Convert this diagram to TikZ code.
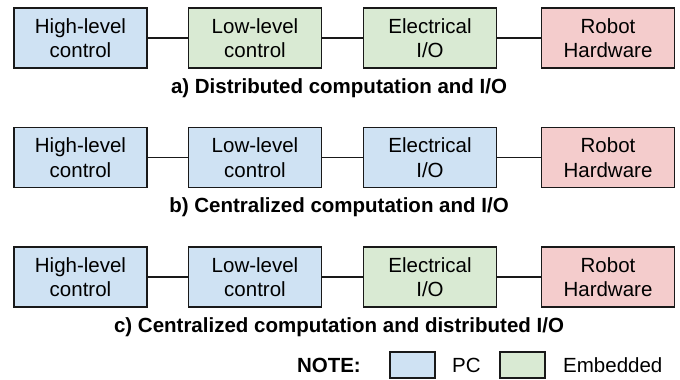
\documentclass[tikz,border=0pt]{standalone}
\usepackage{fontspec}
\setmainfont{Liberation Sans}
\definecolor{pcblue}{HTML}{CFE2F3}
\definecolor{embgreen}{HTML}{D9EAD3}
\definecolor{hwred}{HTML}{F4CCCC}
\tikzstyle{block}=[draw=black!90, line width=1.6pt, minimum width=133pt, minimum height=60pt, inner sep=0pt, align=center, font=\fontsize{20.5}{24.5}\selectfont]
\tikzstyle{pc}=[block, fill=pcblue]
\tikzstyle{emb}=[block, fill=embgreen]
\tikzstyle{hw}=[block, fill=hwred]
\tikzstyle{caption}=[anchor=base, inner sep=0pt, font=\fontsize{20.5}{24.5}\selectfont\bfseries]
\tikzstyle{link}=[line width=1.8pt, black!90]
\tikzstyle{key}=[draw=black!90, line width=1.6pt, minimum width=45pt, minimum height=26pt, inner sep=0pt]
\tikzstyle{keytext}=[anchor=base west, inner sep=0pt, font=\fontsize{20.5}{24.5}\selectfont]

\begin{document}
\begin{tikzpicture}[x=1pt, y=-1pt]
    \useasboundingbox (0, 0) rectangle (680, 380);
% a) Distributed
    \node[pc] (a1) at (80.5, 38) {High-level\\control};
    \node[emb] (a2) at (255, 38) {Low-level\\control};
    \node[emb] (a3) at (430, 38) {Electrical\\I/O};
    \node[hw] (a4) at (608, 38) {Robot\\Hardware};
    \draw[link] (a1) -- (a2);
    \draw[link] (a2) -- (a3);
    \draw[link] (a3) -- (a4);
    \node[caption] (acap) at (339, 93) {a) Distributed computation and I/O};
% b) Centralized
    \node[pc] (b1) at (80.5, 157.5) {High-level\\control};
    \node[pc] (b2) at (255, 157.5) {Low-level\\control};
    \node[pc] (b3) at (430, 157.5) {Electrical\\I/O};
    \node[hw] (b4) at (608, 157.5) {Robot\\Hardware};
    \draw[link] (b1) -- (b2);
    \draw[link] (b2) -- (b3);
    \draw[link] (b3) -- (b4);
    \node[caption] (bcap) at (339, 212.5) {b) Centralized computation and I/O};
% c) Centralized, distributed I/O
    \node[pc] (c1) at (80.5, 277) {High-level\\control};
    \node[pc] (c2) at (255, 277) {Low-level\\control};
    \node[emb] (c3) at (430, 277) {Electrical\\I/O};
    \node[hw] (c4) at (608, 277) {Robot\\Hardware};
    \draw[link] (c1) -- (c2);
    \draw[link] (c2) -- (c3);
    \draw[link] (c3) -- (c4);
    \node[caption] (ccap) at (339, 332) {c) Centralized computation and distributed I/O};
% Legend
    \node[caption, anchor=base east] (note) at (361, 372) {NOTE:};
    \node[key, fill=pcblue] (pckey) at (412.5, 365) {};
    \node[keytext] (pctext) at (452, 372) {PC};
    \node[key, fill=embgreen] (embkey) at (522.5, 365) {};
    \node[keytext] (embtext) at (563, 372) {Embedded};
\end{tikzpicture}
\end{document}
